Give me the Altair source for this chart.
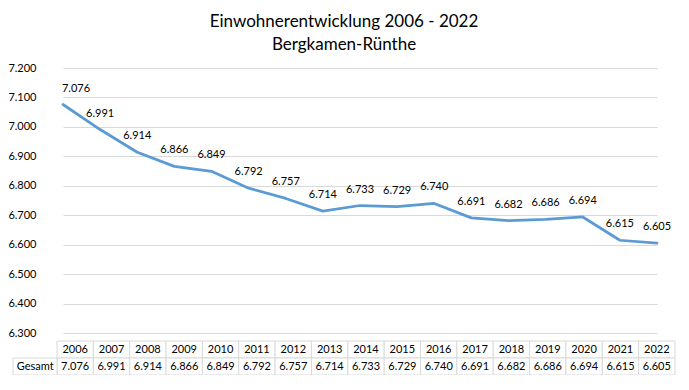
import altair as alt
import pandas as pd

years = [2006, 2007, 2008, 2009, 2010, 2011, 2012, 2013, 2014, 2015, 2016, 2017, 2018, 2019, 2020, 2021, 2022]
values = [7076, 6991, 6914, 6866, 6849, 6792, 6757, 6714, 6733, 6729, 6740, 6691, 6682, 6686, 6694, 6615, 6605]
row_label = "Gesamt"
y_ticks = [6300, 6400, 6500, 6600, 6700, 6800, 6900, 7000, 7100, 7200]
title_lines = ["Einwohnerentwicklung 2006 - 2022", "Bergkamen-Rünthe"]

FONT = "Lato"
LINE_COLOR = "#5b9bd5"
GRID = "#d9d9d9"
TXT = "#000000"
FS = 11
fmt = "replace(format(datum.v, ',d'), ',', '.')"

df = pd.DataFrame({"year": years, "v": values})

# table cells
cells = []
n = len(years)
for i, (yr, v) in enumerate(zip(years, values)):
    cells.append({"c0": i, "c1": i + 1, "cm": i + 0.5, "r0": 0, "r1": 1, "rm": 0.5, "t": str(yr)})
    cells.append({"c0": i, "c1": i + 1, "cm": i + 0.5, "r0": 1, "r1": 2, "rm": 1.5,
                  "t": f"{v:,}".replace(",", ".")})
cells.append({"c0": -1.21, "c1": 0, "cm": -0.6, "r0": 1, "r1": 2, "rm": 1.5, "t": row_label})
tdf = pd.DataFrame(cells)

xs = alt.Scale(domain=[2006, 2022], range=[16, 610], nice=False, zero=False)
ys = alt.Scale(domain=[6300, 7200], range=[265, 0], nice=False, zero=False)

base = alt.Chart(df)

line = base.mark_line(color=LINE_COLOR, strokeWidth=2.75, strokeCap="round", strokeJoin="round").encode(
    x=alt.X("year:Q", scale=xs, axis=None),
    y=alt.Y("v:Q", scale=ys, axis=alt.Axis(
        values=y_ticks, title=None, domain=False, ticks=False, grid=True,
        gridColor=GRID, gridWidth=1, labelPadding=11, labelFont=FONT, labelFontSize=FS,
        labelColor=TXT, labelExpr="replace(format(datum.value, ',d'), ',', '.')")),
)

labels = base.transform_filter("datum.year > 2006").transform_calculate(lab=fmt).mark_text(
    font=FONT, fontSize=FS, color=TXT, dy=-16, baseline="middle", align="center").encode(
    x=alt.X("year:Q", scale=xs, axis=None),
    y=alt.Y("v:Q", scale=ys, axis=None),
    text="lab:N",
)
label_first = base.transform_filter("datum.year == 2006").transform_calculate(lab=fmt).mark_text(
    font=FONT, fontSize=FS, color=TXT, dy=-16, dx=13, baseline="middle", align="center").encode(
    x=alt.X("year:Q", scale=xs, axis=None),
    y=alt.Y("v:Q", scale=ys, axis=None),
    text="lab:N",
)

txs = alt.Scale(domain=[0, n], range=[10, 628], nice=False, zero=False)
tys = alt.Scale(domain=[0, 2], range=[273, 307], nice=False, zero=False)

tcells = alt.Chart(tdf).mark_rect(fill="white", stroke=GRID, strokeWidth=1).encode(
    x=alt.X("c0:Q", scale=txs, axis=None), x2="c1:Q",
    y=alt.Y("r0:Q", scale=tys, axis=None), y2="r1:Q",
)
ttext = alt.Chart(tdf).mark_text(font=FONT, fontSize=FS, color=TXT, baseline="middle", align="center").encode(
    x=alt.X("cm:Q", scale=txs, axis=None),
    y=alt.Y("rm:Q", scale=tys, axis=None),
    text="t:N",
)

chart = alt.layer(line, labels, label_first, tcells, ttext).resolve_scale(
    x="independent", y="independent"
).properties(
    width=628, height=307,
    padding={"left": 39, "top": 60, "right": 6, "bottom": 0},
    autosize=alt.AutoSizeParams(type="none"),
    title=alt.TitleParams(title_lines, font=FONT, fontSize=17, fontWeight="normal", color=TXT,
                          anchor="middle", dx=-17, offset=8, lineHeight=23),
    background="white",
).configure_view(stroke=None)

chart.save("out.html", embed_options={"renderer": "svg", "actions": False})
